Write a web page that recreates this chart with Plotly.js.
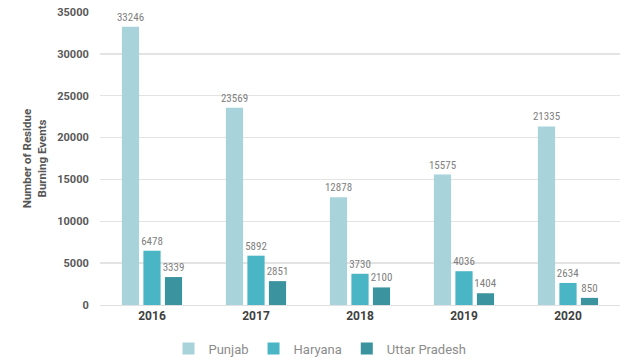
<!DOCTYPE html>
<html><head><meta charset="utf-8">
<script src="https://cdn.plot.ly/plotly-3.0.1.min.js"></script>
<style>body{margin:0;background:#fff}#c{width:640px;height:363px}</style>
</head><body><div id="c"></div>
<script>
const years = ['2016','2017','2018','2019','2020'];
const punjab = [33246, 23569, 12878, 15575, 21335];
const haryana = [6478, 5892, 3730, 4036, 2634];
const uttarPradesh = [3339, 2851, 2100, 1404, 850];
const yTicks = [0, 5000, 10000, 15000, 20000, 25000, 30000, 35000];

function tr(name, vals, color){
  return {type:'bar', name:name, x:years, y:vals, marker:{color:color},
    text:vals.map(String), textposition:'outside', cliponaxis:false, constraintext:'none',
    textfont:{family:'Roboto Condensed, Roboto, sans-serif', size:11, color:'#808080'}};
}
const data = [
  tr('Punjab', punjab, '#A8D3DA'),
  tr('Haryana', haryana, '#4AB5C4'),
  tr('Uttar Pradesh', uttarPradesh, '#3A939E')
];
const layout = {
  width:640, height:363,
  margin:{l:100, r:20, t:12, b:58},
  paper_bgcolor:'#fff', plot_bgcolor:'#fff',
  barmode:'group', bargap:0.38, bargroupgap:0.2,
  font:{family:'Roboto, sans-serif', color:'#595959'},
  xaxis:{type:'category', tickfont:{size:12, color:'#404040', weight:'bold'}, showgrid:false, zeroline:false, showline:true, linecolor:'#e0e0e0', ticks:''},
  yaxis:{range:[0,35000], tickvals:yTicks, ticktext:yTicks.map(String), tickfont:{size:11, color:'#595959', weight:'bold'}, gridcolor:'#e3e3e3', gridwidth:1.5, zeroline:false, ticklen:8, ticks:'outside', tickcolor:'#fff',
    title:{text:'Number of Residue<br>Burning Events', font:{size:11.5, color:'#555555', weight:'bold'}, standoff:8}},
  showlegend:true,
  legend:{orientation:'h', x:0.5, xref:'container', xanchor:'center', y:0.04, yref:'container', yanchor:'middle', font:{size:13, color:'#8c8c8c'}, itemwidth:30, traceorder:'normal'}
};
Plotly.newPlot('c', data, layout, {displayModeBar:false, staticPlot:true});
</script></body></html>
